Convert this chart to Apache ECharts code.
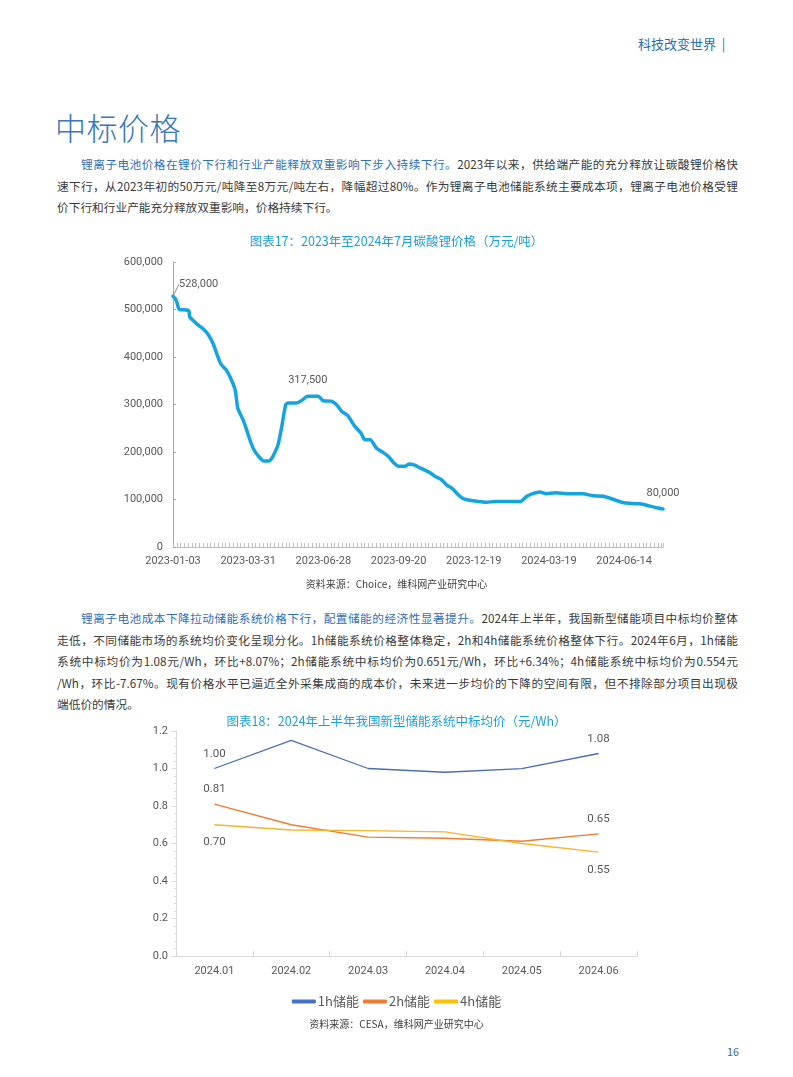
<!DOCTYPE html>
<html>
<head>
<meta charset="utf-8">
<script src="https://cdn.jsdelivr.net/npm/echarts@6/dist/echarts.min.js"></script>
<style>
  html, body { margin: 0; padding: 0; background: #fff; }
  #page { position: relative; width: 793px; height: 1077px; overflow: hidden; font-family: "Noto Sans CJK SC", "Noto Sans", sans-serif; }
  .hdr { position: absolute; top: 34px; left: 638px; font-size: 13px; color: #2b6cb0; white-space: nowrap; }
  .h1 { position: absolute; top: 104px; left: 55px; font-size: 31px; font-weight: 100; color: #3a76bb; letter-spacing: 0.5px; font-family: "Noto Sans CJK SC Light", "Noto Sans CJK SC DemiLight", "Noto Sans CJK SC", sans-serif; }
  .para { position: absolute; left: 57px; width: 681px; font-size: 11.7px; color: #3a3a3a; }
  .para div { height: 21.5px; line-height: 21.5px; text-align: justify; text-align-last: justify; white-space: nowrap; }
  .para div.last { text-align-last: left; }
  .para div.first { padding-left: 24px; }
  .lead { color: #2e6fb7; }
  .pg { position: absolute; top: 1043px; left: 727px; font-size: 11px; color: #2b6cb0; }
  #c1 { position: absolute; top: 220px; left: 0; width: 793px; height: 380px; }
  #c2 { position: absolute; top: 700px; left: 0; width: 793px; height: 377px; }
</style>
</head>
<body>
<div id="page">
  <div class="hdr">科技改变世界&nbsp;&nbsp;|</div>
  <div class="h1">中标价格</div>
  <div class="para" style="top:153px;">
    <div class="first"><span class="lead">锂离子电池价格在锂价下行和行业产能释放双重影响下步入持续下行。</span>2023年以来，供给端产能的充分释放让碳酸锂价格快</div>
    <div>速下行，从2023年初的50万元/吨降至8万元/吨左右，降幅超过80%。作为锂离子电池储能系统主要成本项，锂离子电池价格受锂</div>
    <div class="last">价下行和行业产能充分释放双重影响，价格持续下行。</div>
  </div>
  <div class="para" style="top:607px;">
    <div class="first"><span class="lead">锂离子电池成本下降拉动储能系统价格下行，配置储能的经济性显著提升。</span>2024年上半年，我国新型储能项目中标均价整体</div>
    <div>走低，不同储能市场的系统均价变化呈现分化。1h储能系统价格整体稳定，2h和4h储能系统价格整体下行。2024年6月，1h储能</div>
    <div>系统中标均价为1.08元/Wh，环比+8.07%；2h储能系统中标均价为0.651元/Wh，环比+6.34%；4h储能系统中标均价为0.554元</div>
    <div>/Wh，环比-7.67%。现有价格水平已逼近全外采集成商的成本价，未来进一步均价的下降的空间有限，但不排除部分项目出现极</div>
    <div class="last">端低价的情况。</div>
  </div>
  <div id="c1"></div>
  <div id="c2"></div>
  <div class="pg">16</div>
</div>
<script>
// ---------- Chart 17 data: lithium carbonate price (trading-day index, yuan/ton) ----------
const dayIndex = [0, 2, 3, 4, 5, 12, 13, 16, 19, 23, 27, 31, 34, 37, 41, 45, 48, 50, 54, 57, 60, 63, 67, 70, 74, 76, 78, 81, 84, 87, 89, 95, 99, 104, 112, 116, 122, 126, 130, 135, 140, 145, 148, 152, 157, 161, 166, 170, 174, 179, 182, 186, 191, 198, 202, 207, 211, 216, 220, 224, 230, 236, 242, 248, 260, 268, 273, 277, 283, 288, 295, 304, 316, 324, 332, 339, 348, 360, 368, 374, 378];
const lithiumPrice = [528000, 522000, 515000, 505000, 500000, 498000, 484000, 476000, 468000, 460000, 448000, 428000, 405000, 385000, 373000, 352000, 330000, 292000, 268000, 245000, 220000, 202000, 188000, 181000, 181000, 186000, 196000, 215000, 255000, 300000, 303000, 303000, 308000, 317500, 317500, 308000, 307000, 300000, 286000, 276000, 255000, 240000, 226000, 226000, 208000, 201000, 191000, 178000, 170000, 170000, 175000, 173000, 166000, 157000, 149000, 142000, 131000, 122000, 110000, 102000, 98000, 96000, 94000, 96000, 96000, 96000, 107000, 112000, 116000, 112000, 114000, 112000, 112000, 108000, 107000, 101000, 93000, 91000, 86000, 82000, 80000];
const dateTickLabels = ['2023-01-03', '2023-03-31', '2023-06-28', '2023-09-20', '2023-12-19', '2024-03-19', '2024-06-14'];
const dateTickStep = 58;
const lastDayIndex = 378;

// ---------- Chart 18 data: bid price (yuan/Wh) ----------
const months = ['2024.01', '2024.02', '2024.03', '2024.04', '2024.05', '2024.06'];
const price1h = [1.00, 1.15, 1.00, 0.98, 0.999, 1.08];
const price2h = [0.81, 0.70, 0.634, 0.628, 0.612, 0.651];
const price4h = [0.70, 0.672, 0.669, 0.662, 0.600, 0.554];
const seriesNames = ['1h储能', '2h储能', '4h储能'];

const numFont = 'Roboto, "Noto Sans CJK SC", sans-serif';
const cjkFont = '"Noto Sans CJK SC", sans-serif';

// ---------- Chart 1 ----------
const reboundPeak = Math.max(...lithiumPrice.slice(20));
const peakIdx = lithiumPrice.indexOf(reboundPeak);
const lastIdx = lithiumPrice.length - 1;
const fmtThousands = v => v.toLocaleString('en-US');
const c1Data = dayIndex.map((d, i) => {
  const item = { value: [d, lithiumPrice[i]] };
  if (i === 0) {
    item.label = { show: true, position: 'right', distance: 2 };
    item.labelLine = { show: true, length2: 0, lineStyle: { color: '#8c8c8c', width: 1 } };
  }
  if (i === peakIdx) item.label = { show: true, position: 'top', distance: 10 };
  if (i === lastIdx) item.label = { show: true, position: 'top', distance: 10, offset: [-17, 0] };
  return item;
});
const chart1 = echarts.init(document.getElementById('c1'), null, { renderer: 'canvas' });
chart1.setOption({
  animation: false,
  title: {
    text: '图表17：2023年至2024年7月碳酸锂价格（万元/吨）',
    left: 'center', top: 10,
    textStyle: { fontFamily: cjkFont, fontSize: 12.5, fontWeight: 'normal', color: '#1c9fdc' }
  },
  grid: { left: 173, right: 130, top: 42, bottom: 53 },
  xAxis: {
    type: 'value', min: 0, max: lastDayIndex, interval: dateTickStep,
    axisLine: { show: true, lineStyle: { color: '#bfbfbf', width: 1 } },
    axisTick: { show: true, inside: true, length: 4, lineStyle: { color: '#bfbfbf' } },
    minorTick: { show: true, splitNumber: 20, length: 4, lineStyle: { color: '#bfbfbf' } },
    splitLine: { show: false },
    axisLabel: {
      margin: 9, fontFamily: numFont, fontSize: 11, color: '#595959',
      showMaxLabel: false,
      formatter: v => (v % dateTickStep === 0 ? (dateTickLabels[v / dateTickStep] || '') : '')
    }
  },
  yAxis: {
    type: 'value', min: 0, max: 600000, interval: 100000,
    axisLine: { show: true, lineStyle: { color: '#a6a6a6', width: 1 } },
    axisTick: { show: true, inside: true, length: 3, lineStyle: { color: '#a6a6a6' } },
    splitLine: { show: false },
    axisLabel: { margin: 10, fontFamily: numFont, fontSize: 11, color: '#595959', formatter: fmtThousands }
  },
  series: [{
    type: 'line',
    data: c1Data,
    showSymbol: true,
    showAllSymbol: true,
    symbol: 'circle',
    symbolSize: 0,
    smooth: 0.25,
    lineStyle: { width: 3.5, color: '#14a5e0', cap: 'round', join: 'round' },
    itemStyle: { color: '#14a5e0' },
    label: { fontFamily: numFont, fontSize: 11, color: '#595959', formatter: p => fmtThousands(p.value[1]) },
    labelLayout: p => (p.dataIndex === 0 ? { dx: 4, dy: -12 } : {}),
    labelLine: { show: false }
  }],
  graphic: [{
    type: 'text', left: 'center', top: 359,
    style: { text: '资料来源：Choice，维科网产业研究中心', font: '10px "Noto Sans CJK SC", sans-serif', fill: '#404040' }
  }]
});

// ---------- Chart 2 ----------
const colors = ['#4a6db4', '#ec7d33', '#f3b62c'];
const legendColors = ['#4472c4', '#ed7d31', '#ffc000'];
function endLabels(values, pos) {
  return values.map((v, i) => {
    if (i === 0 || i === values.length - 1) {
      return { value: v, label: { show: true, position: pos, distance: pos === 'bottom' ? 12 : 9 } };
    }
    return v;
  });
}
const lblPositions = ['top', 'top', 'bottom'];
const allSeries = [price1h, price2h, price4h];
const chart2 = echarts.init(document.getElementById('c2'), null, { renderer: 'canvas' });
chart2.setOption({
  animation: false,
  title: {
    text: '图表18：2024年上半年我国新型储能系统中标均价（元/Wh）',
    left: 'center', top: 10,
    textStyle: { fontFamily: cjkFont, fontSize: 12.5, fontWeight: 'normal', color: '#1c9fdc' }
  },
  grid: { left: 176, right: 156, top: 31, bottom: 121 },
  legend: {
    bottom: 64, left: 'center',
    itemWidth: 24, itemHeight: 4, itemGap: 4, icon: 'roundRect',
    textStyle: { fontFamily: cjkFont, fontSize: 13, color: '#595959', padding: [0, 0, 0, -3] },
    data: seriesNames
  },
  xAxis: {
    type: 'category', data: months, boundaryGap: true,
    axisLine: { show: true, lineStyle: { color: '#d9d9d9', width: 1 } },
    axisTick: { show: true, inside: true, length: 5, lineStyle: { color: '#d9d9d9' } },
    axisLabel: { margin: 10, fontFamily: numFont, fontSize: 11, color: '#595959' }
  },
  yAxis: {
    type: 'value', min: 0, max: 1.2, interval: 0.2,
    axisLine: { show: true, lineStyle: { color: '#d9d9d9', width: 1 } },
    axisTick: { show: true, length: 4, lineStyle: { color: '#d9d9d9' } },
    minorTick: { show: true, splitNumber: 5, length: 2, lineStyle: { color: '#d9d9d9' } },
    splitLine: { show: false },
    axisLabel: { margin: 8, fontFamily: numFont, fontSize: 11, color: '#595959', formatter: v => v.toFixed(1) }
  },
  series: allSeries.map((vals, k) => ({
    name: seriesNames[k],
    type: 'line',
    data: endLabels(vals, lblPositions[k]),
    symbol: 'circle',
    symbolSize: 0,
    showSymbol: true,
    showAllSymbol: true,
    lineStyle: { width: 1.3, color: colors[k] },
    itemStyle: { color: legendColors[k] },
    label: { fontFamily: numFont, fontSize: 11.5, color: '#595959', formatter: p => Number(p.value).toFixed(2) }
  })),
  graphic: [{
    type: 'text', left: 'center', top: 319,
    style: { text: '资料来源：CESA，维科网产业研究中心', font: '10px "Noto Sans CJK SC", sans-serif', fill: '#404040' }
  }]
});
</script>
</body>
</html>
